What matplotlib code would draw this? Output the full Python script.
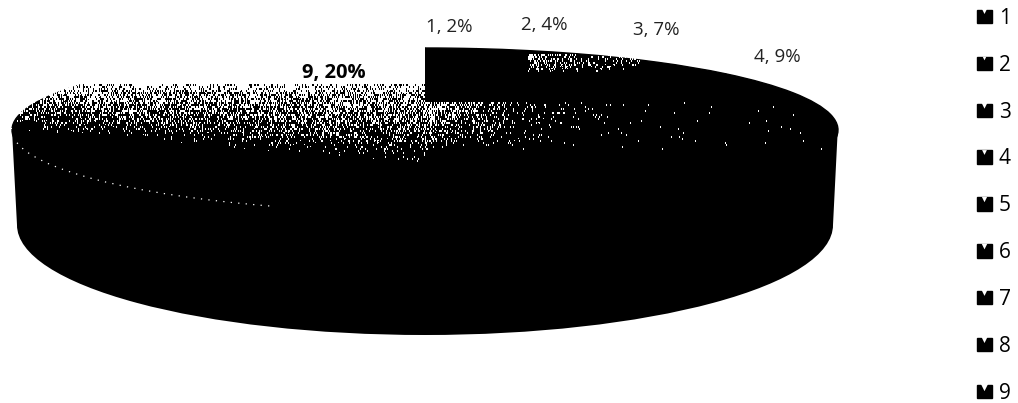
import numpy as np
import matplotlib
matplotlib.use("Agg")
import matplotlib.pyplot as plt
from matplotlib.patches import Ellipse, Polygon, Arc

categories = ["1", "2", "3", "4", "5", "6", "7", "8", "9"]
shares = [2, 4, 7, 9, 10, 12, 16, 20, 20]  # 5-8 have no readable label: estimated
slice_colors = ["#000000"] * 9
shown_labels = {"1": "1, 2%", "2": "2, 4%", "3": "3, 7%", "4": "4, 9%", "9": "9, 20%"}
label_xy = {"1": (449, 27), "2": (544, 25), "3": (656, 30), "4": (777, 57), "9": (334, 73)}
notch_size = [26, 14, 42, 24, 30, 34, 48, 52, 90]

W, H = 1018, 403
fig = plt.figure(figsize=(W / 100, H / 100), dpi=100, facecolor="white")
plt.rcParams["font.family"] = ["Open Sans", "DejaVu Sans"]

back = fig.add_axes([0, 0, 1, 1], zorder=0)
back.set_xlim(0, W); back.set_ylim(H, 0); back.axis("off")

# side of the disc
back.add_patch(Ellipse((425, 225), 816, 220, fc="black", ec="none"))
back.add_patch(Polygon([(12, 130), (17, 225), (833, 225), (838, 125)], fc="black", ec="none"))

# top of the disc, from the values
x0, x1, y0, y1 = 12, 838, 48, 212
pie_ax = fig.add_axes([x0 / W, 1 - y1 / H, (x1 - x0) / W, (y1 - y0) / H], zorder=1)
wedges, _ = pie_ax.pie(shares, colors=slice_colors, startangle=90, counterclock=False, radius=1.0,
                       wedgeprops=dict(edgecolor="black", linewidth=1.0))
pie_ax.set_aspect("auto")
pie_ax.set_xlim(-1, 1); pie_ax.set_ylim(-1, 1)

# overlay: scan grain, labels
top = fig.add_axes([0, 0, 1, 1], zorder=2)
top.set_xlim(0, W); top.set_ylim(H, 0); top.axis("off"); top.patch.set_alpha(0)

yy, xx = np.mgrid[0:H, 0:W]
grain = np.modf(np.abs(np.sin(xx * 12.9898 + (yy // 2) * 78.233)) * 43758.5453)[0]
yend = 128 + 36 * xx / 425
fade = np.clip((yend - yy) / (yend - 88), 0, 1)
p = np.where(xx < 425, 0.66 * fade, 0.0)
p = np.where((xx < 425) & (yy < 84), 1.01, p)
p = np.where((xx < 425) & (yy >= 84) & (yy < 90), 0.75, p)
right_band = (xx >= 425) & (yy >= 102) & (yy < 150)
p = np.where(right_band,
             np.exp(-(xx - 425) / 60.0) * np.clip((150 - yy) / 35, 0, 1) * 0.65 + 0.004, p)
patch = (xx >= 528) & (xx < 640) & (yy >= 54) & (yy < 72)
p = np.where(patch, 0.55 * np.exp(-(xx - 528) / 55.0) * np.clip((72 - yy) / 8, 0, 1), p)
rgba = np.zeros((H, W, 4))
rgba[..., :3] = 1.0
rgba[..., 3] = (grain < p).astype(float)
im = top.imshow(rgba, extent=(0, W, H, 0), interpolation="nearest", aspect="auto", zorder=1)
im.set_clip_path(Ellipse((425, 130), 832, 170, transform=top.transData))

top.add_patch(Arc((425, 130), 826, 164, theta1=154, theta2=178.6,
                  color="white", lw=0.9, ls=(0, (1, 5)), zorder=2))

for key, text in shown_labels.items():
    x, y = label_xy[key]
    top.text(x, y, text, ha="center", va="center", fontsize=13.5 if key != "9" else 14.5,
             fontweight="bold" if key == "9" else "normal",
             color="black" if key == "9" else "#222222", zorder=3)

# legend
leg = top.legend(wedges, categories, loc="upper left", bbox_to_anchor=(977 / W, 1 - 8 / H),
                 bbox_transform=fig.transFigure, frameon=False, fontsize=15,
                 handlelength=0.72, handleheight=0.62, handletextpad=0.32,
                 labelspacing=1.24, borderpad=0, borderaxespad=0)
fig.canvas.draw()
inv = top.transData.inverted()
for swatch, size in zip(leg.get_patches(), notch_size):
    bb = swatch.get_window_extent().transformed(inv)
    top.scatter([(bb.x0 + bb.x1) / 2], [min(bb.y0, bb.y1) + 1.5], s=size * 0.5, marker="v",
                color="white", lw=0, zorder=8)

fig.savefig("out.png", dpi=100)
